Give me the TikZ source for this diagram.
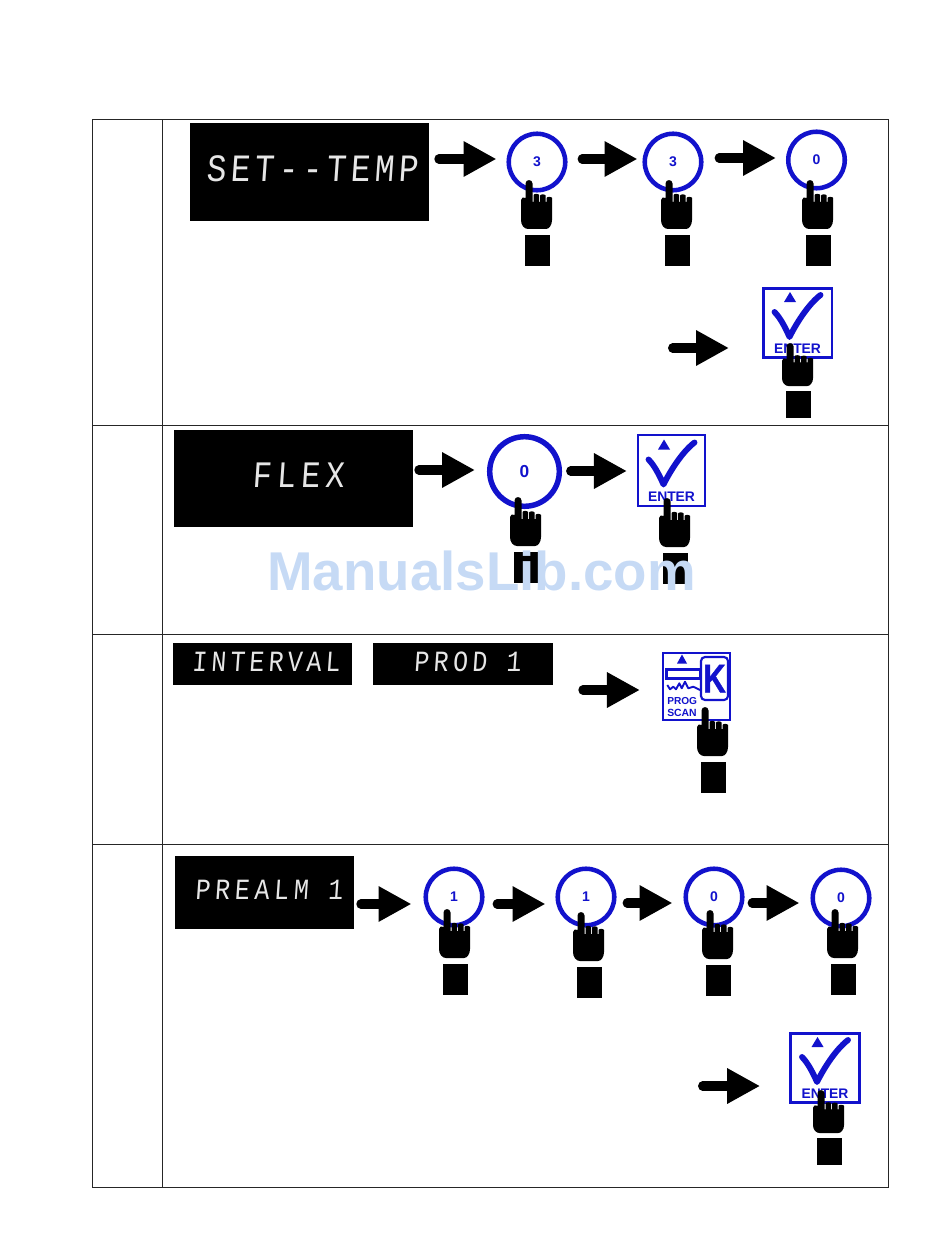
\documentclass[tikz,border=0pt]{standalone}
\usepackage{fontspec}
\setmainfont{Liberation Sans}
\newfontfamily\segFont[FakeSlant=0.07,FakeStretch=0.85]{Liberation Mono}
\newfontfamily\keyFont[FakeBold=1.2]{Liberation Sans Bold}
\usetikzlibrary{arrows.meta}
\definecolor{keyBlue}{HTML}{1212CC}
\definecolor{markBlue}{HTML}{C6DAF5}
\definecolor{segGrey}{HTML}{E6E6E6}
\tikzset{
  pressHand/.pic={
    \fill[black] (-3.5,3.5) .. controls (-3.5,-1) and (3.5,-1) .. (3.5,3.5)
      -- (3.5,22) -- (4.5,22) -- (4.5,15) .. controls (4.5,13.5) and (10,13.5) .. (10,15)
      -- (10,22) -- (11,22) -- (11,15.5) .. controls (11,14) and (16.5,14) .. (16.5,15.5)
      -- (16.5,22) -- (17.5,22) -- (17.5,18) .. controls (17.5,16.5) and (23,16.5) .. (23,18)
      -- (23,40) .. controls (23,45) and (20,49) .. (17,49) -- (-1,49)
      .. controls (-5,49) and (-8,45) .. (-8,40) -- (-8,20)
      .. controls (-8,17.5) and (-5,16.5) .. (-3.5,18) -- cycle;
    \fill[black] (-4,55) rectangle (21,85.5);
  },
  enterGlyph/.pic={
    \fill[keyBlue] (-7.5,-31) -- (-1.5,-21) -- (-13.5,-21) -- cycle;
    \draw[keyBlue,line width=4.4pt,line cap=round,line join=round]
      (-23,-11) .. controls (-17,-5) and (-12,5) .. (-8,14)
      .. controls (-2,2) and (10,-18) .. (23,-28);
    \node (-label) at (0,26) [inner sep=0pt,text=keyBlue,font=\bfseries\fontsize{10.4}{11}\selectfont] {ENTER};
  },
  progGlyph/.pic={
    \fill[keyBlue] (-14.5,-32) -- (-9.5,-23) -- (-19.5,-23) -- cycle;
    \draw[keyBlue,line width=1.8pt] (-30,-17) rectangle (4,-8);
    \draw[keyBlue,line width=1.4pt,line join=round] (-29.2,-1.5) -- (-26.5,2.8) -- (-23.2,.2)
      -- (-20.5,2.8) -- (-17.2,-3.2) -- (-14.8,1.8) -- (-11.5,-4.8) -- (-8.2,1.8)
      -- (-3.2,.2) -- (3.5,3.5);
    \draw[keyBlue,line width=1.6pt,rounded corners=3pt] (4.5,-29.5) rectangle (31.5,13.5);
    \node (-key) at (18,-8) [inner sep=0pt,text=keyBlue,font=\keyFont\fontsize{30}{30}\selectfont] {\scalebox{.78}[1]{K}};
    \node (-prog) at (-29.5,14.5) [anchor=west,inner sep=0pt,text=keyBlue,font=\bfseries\fontsize{7.6}{8}\selectfont] {PROG};
    \node (-scan) at (-29.5,26.5) [anchor=west,inner sep=0pt,text=keyBlue,font=\bfseries\fontsize{7.8}{8}\selectfont] {SCAN};
  }
}

\begin{document}
\begin{tikzpicture}
[x=0.75pt,y=-0.75pt,%
  displayBox/.style={shape=rectangle,fill=black,inner sep=0pt},%
  segText/.style={inner sep=0pt,text=segGrey},%
  buttonRound/.style={shape=circle,draw=keyBlue,fill=white,line width=3.4pt,inner sep=0pt,minimum size=42.4pt,text=keyBlue,font=\bfseries\fontsize{10.5}{11}\selectfont},%
  buttonBig/.style={buttonRound,line width=4.1pt,minimum size=52.2pt,font=\bfseries\fontsize{13}{14}\selectfont},%
  buttonSquare/.style={shape=rectangle,draw=keyBlue,fill=white,line width=1.9pt,inner sep=0pt},%
  arrowDecorate/.style={-{Triangle[length=24.7pt,width=25pt]},line width=7pt,line cap=round,black},%
  tableRule/.style={draw=black!85,line width=0.75pt}]
\useasboundingbox (0,0) rectangle (950,1248);
%% table lines
\draw[tableRule] (92,120) rectangle (888,1187);
\draw[tableRule] (162,120) -- (162,1187);
\foreach \y in {425,634,844}
{
  \draw[tableRule] (92,\y) -- (888,\y);
}
%% displays
\foreach \nodename/\x/\y/\w/\h in {setTemp/309.5/172/239/98, flexShow/293.5/478.5/239/97, intervalShow/262.5/664/179/42, prodShow/463/664/180/42, prealmShow/264.5/892.5/179/73}
{
  \node (\nodename) at (\x,\y) [displayBox,minimum width=\w*0.75pt,minimum height=\h*0.75pt] {};
}
\foreach \nodename/\x/\y/\size/\gap/\word in {setTempText/312.5/169/29/11/SET{-}{-}TEMP, flexText/298/475/28/14/FLEX, intervalText/266/661.5/22/14/INTERVAL, prodText/467.5/661.5/22/15/PROD 1, prealmText/269/890/22/16/PREALM 1}
{
  \node (\nodename) at (\x,\y) [segText,font=\segFont\addfontfeature{LetterSpace=\gap}\fontsize{\size}{\size}\selectfont] {\word};
}
%% buttons
\foreach \nodename/\x/\y/\digit in {btnA/537/162/3, btnB/673/162/3, btnC/816.5/160/0, btnE/454/897/1, btnF/586/897/1, btnG/714/897/0, btnH/841/898/0}
{
  \node (\nodename) at (\x,\y) [buttonRound] {\digit};
}
\node (btnD) at (524.5,471.5) [buttonBig] {0};
\foreach \nodename/\x/\y/\w/\h in {enterA/797.5/323/51.4/52, enterB/671.5/470.5/50/53, enterC/825/1068/52/52}
{
  \node (\nodename) at (\x,\y) [buttonSquare,minimum width=\w pt,minimum height=\h pt] {};
  \pic (\nodename Glyph) at (\nodename.center) {enterGlyph};
}
\node (progKey) at (696.5,686.5) [buttonSquare,minimum width=50pt,minimum height=50pt] {};
\pic (progKeyGlyph) at (progKey.center) {progGlyph};
%% hands
\foreach \x/\y/\ys in {529/180/1, 669/180/1, 810/180/1, 790/343/.88, 518/497/1, 667/498/1, 705/707/1, 447/909/1, 581/912/1, 710/910/1, 835/909/1, 821/1090/.88}
{
  \pic[yscale=\ys] at (\x,\y) {pressHand};
}
%% arrows
\coordinate (enterFromA) at (668,348);
\coordinate (enterFromC) at (698,1086);
\foreach \startnode/\endnode/\y/\sa/\sb in {setTemp/btnA/159/5/10, btnA/btnB/159/10/5, btnB/btnC/158/11/10, enterFromA/enterA/348/0/33, flexShow/btnD/470/1/12, btnD/enterB/471/4/10, prodShow/progKey/690/25/22, prealmShow/btnE/904/2/12, btnE/btnF/904/8/10, btnF/btnG/903/6/11, btnG/btnH/903/3/11, enterFromC/enterC/1086/0/29}
{
  \draw[arrowDecorate,shorten <=(\sa+4.7)*0.75pt,shorten >=\sb*0.75pt] (\startnode.east |- 0,\y) -- (\endnode.west |- 0,\y);
}
%% watermark
\node (watermark) at (481.5,590) [anchor=base,inner sep=0pt,text=markBlue,font=\bfseries\fontsize{41}{42}\selectfont] {ManualsLib.com};
\end{tikzpicture}
\end{document}
